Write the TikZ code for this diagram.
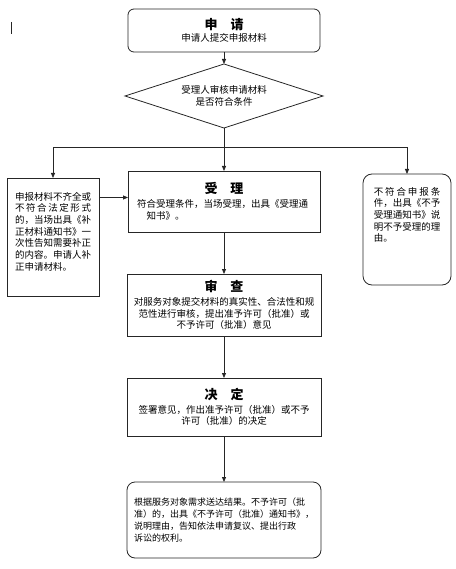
\documentclass[tikz,border=0pt]{standalone}
\usepackage{fontspec}
\setmainfont{Noto Sans CJK SC}
\usetikzlibrary{arrows.meta,positioning,shapes.geometric}
\newcommand{\bodyfont}{\fontsize{9.5pt}{11.7pt}\selectfont}
\newcommand{\stagetitle}[1]{{\fontsize{13pt}{15pt}\selectfont\bfseries #1}}
\tikzset{
  stagebox/.style={draw=black!85, line width=0.8pt, align=center, font=\bodyfont,
                   inner sep=2pt, outer sep=0pt},
  roundbox/.style={stagebox, rounded corners=7pt},
  decision/.style={draw=black!85, line width=0.8pt, diamond, aspect=3, align=center,
                   font=\bodyfont, minimum width=198pt, minimum height=64pt,
                   inner sep=0pt, outer sep=0pt},
  link/.style={-{Triangle[length=5pt,width=4pt]}, line width=0.8pt, black!85},
  plain/.style={line width=0.8pt, black!85}
}

\begin{document}
\begin{tikzpicture}[x=1pt,y=-1pt]
  \useasboundingbox (0,0) rectangle (455,569);
  \draw[plain] (11,22) -- (11,34);
  % main column
  \node[roundbox, rounded corners=6pt, minimum width=192pt, minimum height=43pt] (apply) at (224,30.5)
    {\stagetitle{申\hspace{1em}请}\\申请人提交申报材料};
  \node[decision] (check) at (224,96) {受理人审核申请材料\\是否符合条件};
  \node[stagebox, minimum width=192pt, minimum height=61pt, align=left, text width=174pt] (accept) at (224,201.5)
    {\makebox[\linewidth]{\stagetitle{受\hspace{1em}理}}\\[2pt]
     符合受理条件，当场受理，出具《受理通\\\hspace*{1em}知书》。};
  \node[stagebox, minimum width=194pt, minimum height=62pt] (review) at (224,305)
    {\stagetitle{审\hspace{1em}查}\\[2pt]
     对服务对象提交材料的真实性、合法性和规\\范性进行审核，提出准予许可（批准）或\\不予许可（批准）意见};
  \node[stagebox, minimum width=194pt, minimum height=58pt] (decide) at (224,407)
    {\stagetitle{决\hspace{1em}定}\\[2pt]
     签署意见，作出准予许可（批准）或不予\\许可（批准）的决定};
  \node[roundbox, rounded corners=8pt, minimum width=194pt, minimum height=76pt, align=left,
        text width=180pt, font=\fontsize{9pt}{12pt}\selectfont] (notify) at (224,520)
    {根据服务对象需求送达结果。不予许可（批\\准）的，出具《不予许可（批准）通知书》，\\
     说明理由，告知依法申请复议、提出行政\\诉讼的权利。};
  % side boxes
  \node[stagebox, minimum width=92pt, minimum height=118pt] (supp) at (53,237)
    {\parbox[c][90pt][t]{76pt}{\raggedright
     申报材料不齐全或\\
     \makebox[\linewidth][s]{不\hfill 符\hfill 合\hfill 法\hfill 定\hfill 形\hfill 式}\\
     的，当场出具《补\\正材料通知书》一\\次性告知需要补正\\的内容。申请人补\\正申请材料。}};
  \node[roundbox, rounded corners=9pt, minimum width=88pt, minimum height=111pt] (reject) at (407,229.5)
    {\parbox[c][85pt][t]{66.5pt}{\raggedright
     \makebox[\linewidth][s]{不\hfill 符\hfill 合\hfill 申\hfill 报\hfill 条}\\
     件，出具《不予\\受理通知书》说\\明不予受理的理\\由。}};
  % connectors
  \draw[link] (apply) -- (check);
  \draw[plain] (check.south) -- ++(0,19) coordinate (fork);
  \draw[link] (fork) -| (supp.north);
  \draw[link] (fork) -| (reject.north);
  \draw[link] (fork) -- (accept.north);
  \draw[link] ([yshift=4pt]accept.west -| supp.east) -- ([yshift=4pt]accept.west);
  \draw[link] (accept) -- (review);
  \draw[link] (review) -- (decide);
  \draw[link] (decide) -- (notify);
\end{tikzpicture}
\end{document}
